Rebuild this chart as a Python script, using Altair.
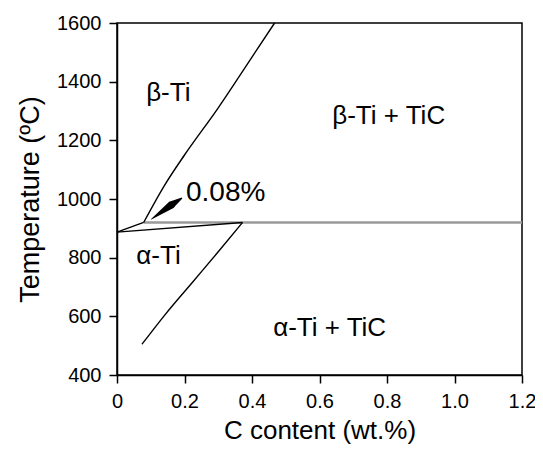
import altair as alt
import pandas as pd

# ---- data ----
beta_x = [0.079, 0.14, 0.2, 0.3, 0.4, 0.467]
beta_T = [920, 1045, 1150, 1311, 1484, 1600]

alpha_x = [0.372, 0.300, 0.225, 0.142, 0.103, 0.074]
alpha_T = [920, 820, 718, 605, 548, 505]

ab_upper_x = [0.0, 0.079]
ab_upper_T = [887, 920]
ab_lower_x = [0.0, 0.372]
ab_lower_T = [887, 920]

eut_x = [0.079, 1.2]
eut_T = [920, 920]

arrow_x = [0.191, 0.161, 0.1015]
arrow_T = [1002, 980, 931]
arrow_w = [1.5, 7.5, 0.5]

labels = ["β-Ti", "β-Ti + TiC", "α-Ti", "α-Ti + TiC"]
label_x = [0.152, 0.805, 0.123, 0.63]
label_T = [1360, 1283, 806, 560]

pct_label = ["0.08%"]
pct_x = [0.322]
pct_T = [1022]

x_ticks = [0, 0.2, 0.4, 0.6, 0.8, 1.0, 1.2]
y_ticks = [400, 600, 800, 1000, 1200, 1400, 1600]

FONT = "Liberation Sans"

rows = []
for name, xs, ts in [("beta", beta_x, beta_T), ("alpha", alpha_x, alpha_T)]:
    for i, (a, b) in enumerate(zip(xs, ts)):
        rows.append({"seg": name, "i": i, "x": a, "T": b})
curves_df = pd.DataFrame(rows)
rows = []
for name, xs, ts in [("abu", ab_upper_x, ab_upper_T), ("abl", ab_lower_x, ab_lower_T)]:
    for i, (a, b) in enumerate(zip(xs, ts)):
        rows.append({"seg": name, "i": i, "x": a, "T": b})
straight_df = pd.DataFrame(rows)
eut_df = pd.DataFrame({"x": eut_x, "T": eut_T})
arrow_df = pd.DataFrame({"x": arrow_x, "T": arrow_T, "w": arrow_w, "i": range(3)})
lab_df = pd.DataFrame({"label": labels, "x": label_x, "T": label_T})
pct_df = pd.DataFrame({"label": pct_label, "x": pct_x, "T": pct_T})

xscale = alt.Scale(domain=[0, 1.2], nice=False, zero=False)
yscale = alt.Scale(domain=[400, 1600], nice=False, zero=False)

xenc = alt.X("x:Q", scale=xscale, title="C content (wt.%)",
             axis=alt.Axis(values=x_ticks, labelPadding=8, titlePadding=6,
                           titleFontSize=26, labelFlush=False,
                           labelExpr="datum.value == 0 ? '0' : format(datum.value, '.1f')"))
yenc = alt.Y("T:Q", scale=yscale, title="Temperature (ºC)",
             axis=alt.Axis(values=y_ticks, format="d", labelPadding=8, titlePadding=12,
                           labelFlush=False))

eut = alt.Chart(eut_df).mark_line(color="#9a9a9a", strokeWidth=2.5).encode(x=xenc, y=yenc)
curves = alt.Chart(curves_df).mark_line(color="black", strokeWidth=1.4,
                                        interpolate="monotone").encode(
    x=xenc, y=yenc, detail="seg:N", order="i:Q")
straight = alt.Chart(straight_df).mark_line(color="black", strokeWidth=1.4).encode(
    x=xenc, y=yenc, detail="seg:N", order="i:Q")
arrow = alt.Chart(arrow_df).mark_trail(color="black").encode(
    x=xenc, y=yenc, order="i:Q",
    size=alt.Size("w:Q", scale=alt.Scale(domain=[0, 10], range=[0, 10]), legend=None))
text = alt.Chart(lab_df).mark_text(font=FONT, color="black", align="center",
                                   baseline="middle", fontSize=26).encode(
    x=xenc, y=yenc, text="label:N")
pct = alt.Chart(pct_df).mark_text(font=FONT, color="black", align="center",
                                  baseline="middle", fontSize=28).encode(
    x=xenc, y=yenc, text="label:N")

chart = alt.layer(eut, curves, straight, arrow, text, pct).properties(
    width=405, height=352,
    autosize=alt.AutoSizeParams(type="none"),
    padding={"left": 109, "top": 15, "right": 13, "bottom": 70},
).configure_view(stroke="black", strokeWidth=1.5).configure_axis(
    grid=False, domainColor="black", domainWidth=1.5, tickColor="black",
    tickWidth=1.5, tickSize=8, labelFont=FONT, labelFontSize=20,
    labelColor="black", titleFont=FONT, titleFontSize=27, titleColor="black",
    titleFontWeight="normal",
)

chart.save("out.html", embed_options={"renderer": "svg", "actions": False})
